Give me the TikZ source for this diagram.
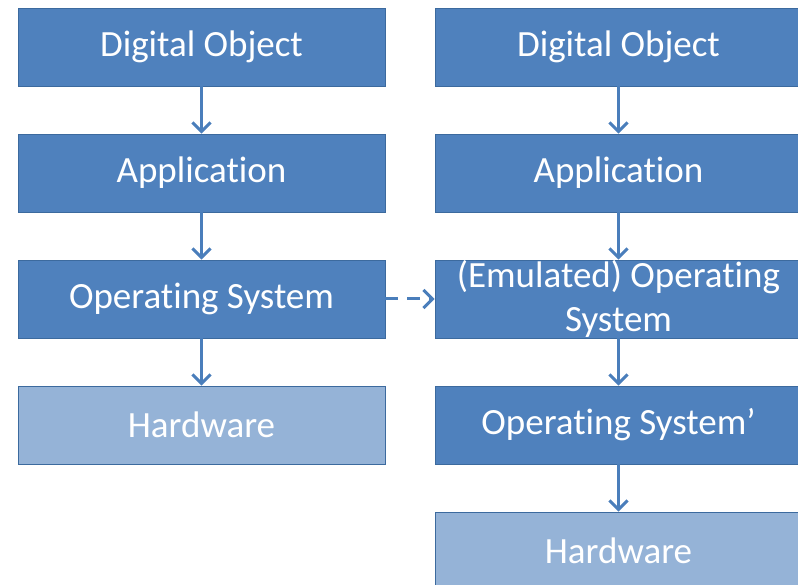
\documentclass[tikz,border=0pt]{standalone}
\usepackage{fontspec}
\setmainfont[Ligatures=NoCommon]{Carlito}
\usetikzlibrary{arrows.meta}
\definecolor{darkbox}{HTML}{4F81BD}
\definecolor{lightbox}{HTML}{95B3D7}
\definecolor{boxline}{HTML}{3C6A9E}
\definecolor{arrowcol}{HTML}{4A7EBB}
\tikzset{
  box/.style={draw=boxline, line width=0.8pt, fill=darkbox, text=white,
    minimum width=367pt, minimum height=78pt, inner sep=0pt, align=center,
    font=\fontsize{37}{44}\selectfont},
  lbox/.style={box, fill=lightbox},
  conn/.style={draw=arrowcol, line width=3pt, -{Straight Barb[length=9pt,width=18pt,line width=3pt]}},
}
\begin{document}
\begin{tikzpicture}[x=1pt,y=-1pt]
\useasboundingbox (0,0) rectangle (798,585);
\node[box] (l1) at (201.5,47) {Digital Object};
\node[box] (l2) at (201.5,173) {Application};
\node[box] (l3) at (201.5,299) {Operating System};
\node[lbox] (l4) at (201.5,425) {Hardware};
\node[box] (r1) at (618.5,47) {Digital Object};
\node[box] (r2) at (618.5,173) {Application};
\node[box] (r3) at (618.5,299) {(Emulated) Operating\\System};
\node[box] (r4) at (618.5,425) {Operating System’};
\node[lbox] (r5) at (618.5,551) {Hardware};
\draw[conn] (l1) -- (l2);
\draw[conn] (l2) -- (l3);
\draw[conn] (l3) -- (l4);
\draw[conn] (r1) -- (r2);
\draw[conn] (r2) -- (r3);
\draw[conn] (r3) -- (r4);
\draw[conn] (r4) -- (r5);
\draw[conn, dash pattern=on 13pt off 9pt] (l3) -- (r3);
\end{tikzpicture}
\end{document}
